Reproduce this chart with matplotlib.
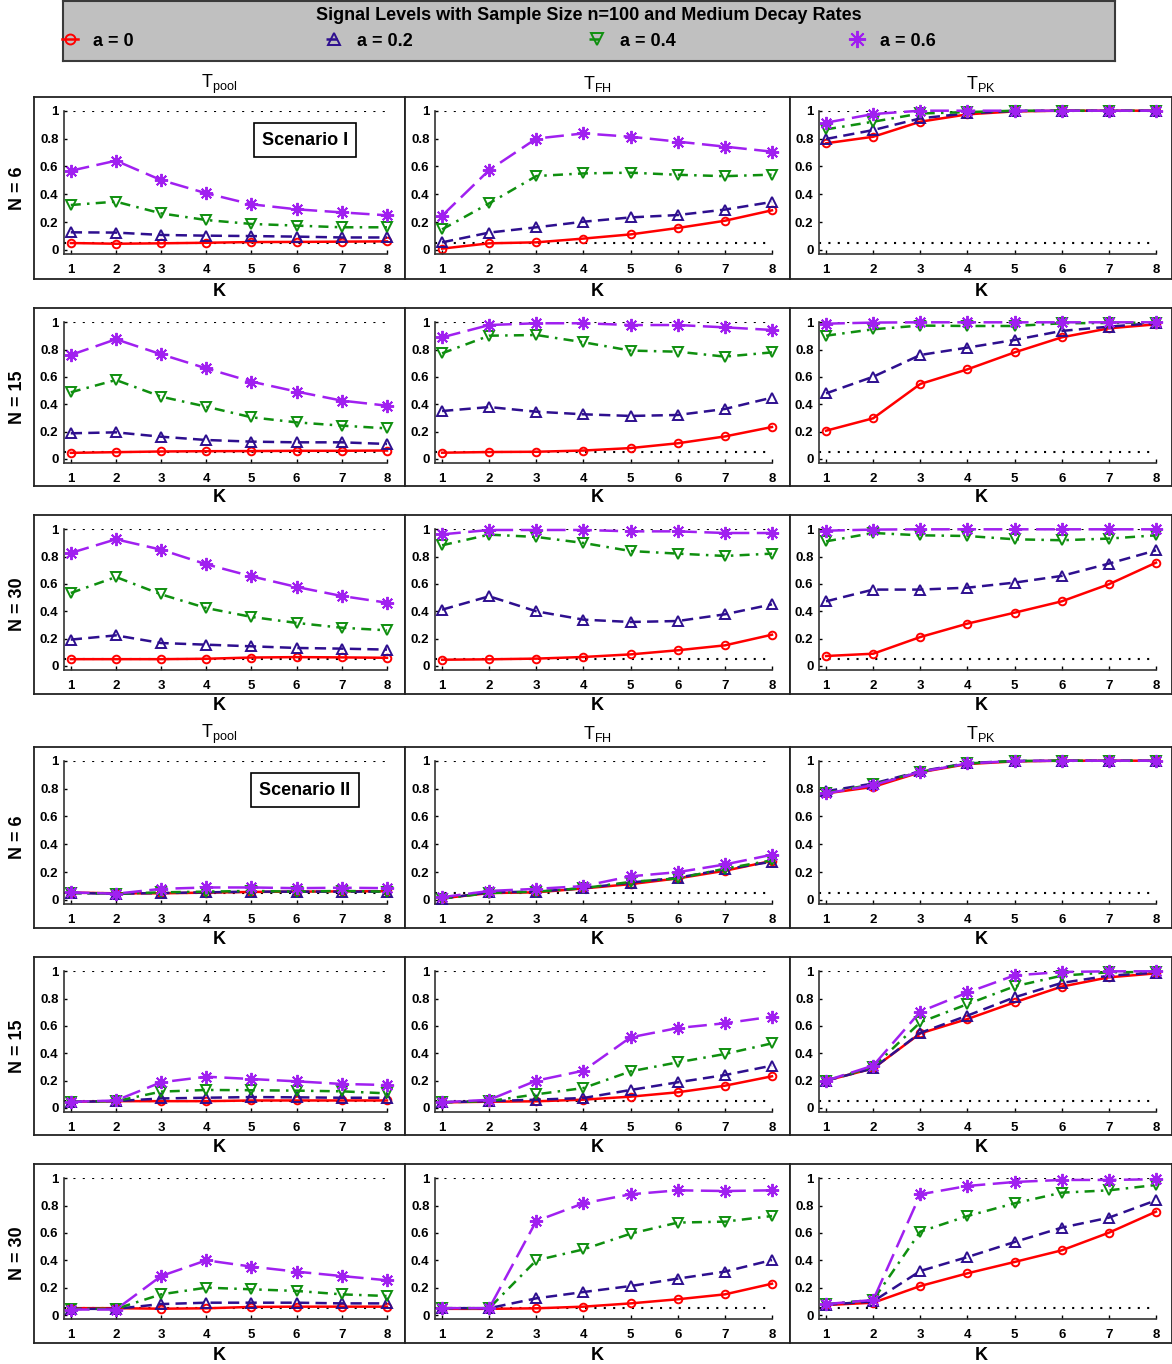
import numpy as np
import matplotlib
matplotlib.use('Agg')
import matplotlib.pyplot as plt

plt.rcParams['font.family'] = ['Liberation Sans', 'DejaVu Sans']

W, H = 1172, 1364

K = [1, 2, 3, 4, 5, 6, 7, 8]
alpha_labels = ['a = 0', 'a = 0.2', 'a = 0.4', 'a = 0.6']
test_titles = [r'T$_{\mathregular{pool}}$', r'T$_{\mathregular{FH}}$', r'T$_{\mathregular{PK}}$']
n_labels = ['N = 6', 'N = 15', 'N = 30']
scenario_labels = ['Scenario I', 'Scenario II']
main_title = 'Signal Levels with Sample Size n=100 and Medium Decay Rates'

# each panel: rows are a = 0, 0.2, 0.4, 0.6 ; columns are K = 1..8
# ---- Scenario I ----
s1_n6_pool = [[0.050, 0.045, 0.048, 0.052, 0.057, 0.058, 0.060, 0.062],
              [0.127, 0.125, 0.108, 0.103, 0.100, 0.096, 0.090, 0.090],
              [0.323, 0.347, 0.263, 0.215, 0.187, 0.175, 0.163, 0.163],
              [0.569, 0.641, 0.502, 0.407, 0.328, 0.292, 0.270, 0.249]]
s1_n6_fh = [[0.010, 0.048, 0.055, 0.082, 0.112, 0.158, 0.210, 0.285],
            [0.055, 0.125, 0.163, 0.203, 0.234, 0.251, 0.290, 0.345],
            [0.148, 0.335, 0.531, 0.550, 0.555, 0.540, 0.530, 0.541],
            [0.246, 0.574, 0.800, 0.837, 0.813, 0.778, 0.742, 0.706]]
s1_n6_pk = [[0.766, 0.813, 0.921, 0.974, 0.995, 1.000, 1.000, 1.000],
            [0.797, 0.861, 0.945, 0.981, 0.998, 1.000, 1.000, 1.000],
            [0.866, 0.921, 0.980, 0.990, 1.000, 1.000, 1.000, 1.000],
            [0.914, 0.976, 1.000, 1.000, 1.000, 1.000, 1.000, 1.000]]

s1_n15_pool = [[0.045, 0.050, 0.055, 0.057, 0.058, 0.060, 0.060, 0.062],
               [0.188, 0.195, 0.163, 0.139, 0.127, 0.122, 0.122, 0.110],
               [0.488, 0.578, 0.456, 0.383, 0.305, 0.268, 0.244, 0.224],
               [0.761, 0.876, 0.766, 0.663, 0.566, 0.493, 0.427, 0.390]]
s1_n15_fh = [[0.046, 0.051, 0.053, 0.062, 0.080, 0.115, 0.165, 0.234],
             [0.351, 0.380, 0.346, 0.327, 0.315, 0.322, 0.366, 0.449],
             [0.773, 0.902, 0.907, 0.854, 0.793, 0.785, 0.749, 0.780],
             [0.890, 0.980, 0.993, 0.993, 0.980, 0.980, 0.963, 0.944]]
s1_n15_pk = [[0.207, 0.298, 0.549, 0.656, 0.780, 0.890, 0.956, 0.985],
             [0.480, 0.602, 0.761, 0.815, 0.871, 0.937, 0.968, 0.995],
             [0.902, 0.949, 0.976, 0.973, 0.973, 0.993, 0.995, 0.998],
             [0.990, 0.998, 1.000, 1.000, 1.000, 1.000, 1.000, 1.000]]

s1_n30_pool = [[0.050, 0.050, 0.050, 0.053, 0.062, 0.065, 0.063, 0.060],
               [0.193, 0.224, 0.168, 0.156, 0.144, 0.132, 0.127, 0.120],
               [0.534, 0.651, 0.524, 0.424, 0.359, 0.315, 0.280, 0.261],
               [0.827, 0.927, 0.851, 0.744, 0.656, 0.578, 0.512, 0.463]]
s1_n30_fh = [[0.046, 0.049, 0.054, 0.066, 0.085, 0.115, 0.151, 0.229],
             [0.412, 0.510, 0.400, 0.339, 0.322, 0.329, 0.378, 0.451],
             [0.883, 0.961, 0.944, 0.900, 0.841, 0.822, 0.805, 0.822],
             [0.963, 0.995, 0.995, 0.995, 0.985, 0.985, 0.973, 0.973]]
s1_n30_pk = [[0.073, 0.090, 0.212, 0.310, 0.390, 0.473, 0.598, 0.756],
             [0.473, 0.559, 0.559, 0.573, 0.610, 0.659, 0.749, 0.846],
             [0.912, 0.973, 0.956, 0.951, 0.927, 0.920, 0.932, 0.956],
             [0.990, 0.998, 1.000, 1.000, 1.000, 1.000, 1.000, 1.000]]

# ---- Scenario II ----
s2_n6_pool = [[0.053, 0.048, 0.048, 0.053, 0.058, 0.060, 0.062, 0.063],
              [0.050, 0.045, 0.050, 0.055, 0.060, 0.060, 0.060, 0.060],
              [0.050, 0.045, 0.055, 0.060, 0.065, 0.060, 0.065, 0.060],
              [0.055, 0.045, 0.080, 0.090, 0.090, 0.085, 0.088, 0.085]]
s2_n6_fh = [[0.012, 0.050, 0.055, 0.083, 0.114, 0.155, 0.210, 0.281],
            [0.010, 0.055, 0.060, 0.085, 0.125, 0.160, 0.220, 0.275],
            [0.010, 0.050, 0.060, 0.085, 0.130, 0.155, 0.225, 0.285],
            [0.020, 0.065, 0.080, 0.100, 0.170, 0.200, 0.255, 0.325]]
s2_n6_pk = [[0.765, 0.812, 0.917, 0.976, 0.995, 1.000, 1.000, 1.000],
            [0.781, 0.836, 0.924, 0.983, 0.998, 1.000, 1.000, 1.000],
            [0.770, 0.830, 0.920, 0.980, 0.998, 1.000, 1.000, 1.000],
            [0.765, 0.825, 0.920, 0.980, 0.998, 1.000, 1.000, 1.000]]

s2_n15_pool = [[0.045, 0.050, 0.050, 0.050, 0.055, 0.055, 0.055, 0.055],
               [0.045, 0.050, 0.070, 0.075, 0.080, 0.078, 0.075, 0.075],
               [0.045, 0.050, 0.120, 0.132, 0.130, 0.127, 0.122, 0.107],
               [0.045, 0.055, 0.188, 0.229, 0.212, 0.195, 0.176, 0.168]]
s2_n15_fh = [[0.041, 0.046, 0.049, 0.061, 0.083, 0.115, 0.163, 0.232],
             [0.042, 0.050, 0.061, 0.073, 0.132, 0.188, 0.241, 0.310],
             [0.042, 0.050, 0.100, 0.146, 0.268, 0.334, 0.395, 0.473],
             [0.042, 0.060, 0.200, 0.273, 0.517, 0.585, 0.620, 0.668]]
s2_n15_pk = [[0.200, 0.290, 0.546, 0.651, 0.773, 0.888, 0.956, 0.985],
             [0.200, 0.290, 0.550, 0.676, 0.810, 0.915, 0.968, 0.990],
             [0.200, 0.300, 0.627, 0.760, 0.890, 0.968, 0.993, 0.995],
             [0.200, 0.310, 0.705, 0.845, 0.970, 0.995, 1.000, 1.000]]

s2_n30_pool = [[0.050, 0.050, 0.046, 0.049, 0.059, 0.061, 0.061, 0.061],
               [0.045, 0.045, 0.080, 0.090, 0.090, 0.090, 0.085, 0.085],
               [0.045, 0.045, 0.151, 0.200, 0.188, 0.176, 0.151, 0.139],
               [0.040, 0.040, 0.285, 0.400, 0.354, 0.317, 0.285, 0.254]]
s2_n30_fh = [[0.045, 0.045, 0.049, 0.061, 0.085, 0.115, 0.151, 0.229],
             [0.050, 0.050, 0.122, 0.168, 0.212, 0.266, 0.317, 0.402],
             [0.050, 0.050, 0.400, 0.480, 0.595, 0.676, 0.683, 0.724],
             [0.050, 0.050, 0.688, 0.817, 0.883, 0.912, 0.907, 0.912]]
s2_n30_pk = [[0.073, 0.090, 0.212, 0.305, 0.388, 0.473, 0.602, 0.756],
             [0.075, 0.100, 0.322, 0.424, 0.534, 0.639, 0.712, 0.839],
             [0.080, 0.110, 0.610, 0.724, 0.817, 0.895, 0.912, 0.951],
             [0.080, 0.110, 0.883, 0.944, 0.973, 0.988, 0.988, 0.993]]

panels = [[s1_n6_pool, s1_n6_fh, s1_n6_pk],
          [s1_n15_pool, s1_n15_fh, s1_n15_pk],
          [s1_n30_pool, s1_n30_fh, s1_n30_pk],
          [s2_n6_pool, s2_n6_fh, s2_n6_pk],
          [s2_n15_pool, s2_n15_fh, s2_n15_pk],
          [s2_n30_pool, s2_n30_fh, s2_n30_pk]]

# line styles per a-level
colors = ['#ff0000', '#2e0f8f', '#0f8f0f', '#a020f0']
markers = ['o', '^', 'v', (8, 2, 0)]
msizes = [5.5, 6.5, 6.5, 9.5]
dash_styles = [None, (4.5, 2.5), (4, 2.5, 1, 2.5), (7.5, 3)]

# layout in pixels
frame_x = [(34, 405), (405, 790), (790, 1172)]
spine_x = [(64, 387), (435, 772), (819, 1156)]
frame_y = [(97, 279), (308, 486), (515, 694), (747, 928), (957, 1135), (1164, 1343)]
one_y = [110.7, 322.3, 529.3, 760.7, 971.3, 1178.3]
zero_y = [250, 459, 666, 900, 1108, 1315]
y_lo = -0.03


def fig_rect(l, t, r, b):
    return [l / W, 1 - b / H, (r - l) / W, (b - t) / H]


fig = plt.figure(figsize=(W / 100, H / 100), dpi=100)

# legend box at the top
lax = fig.add_axes(fig_rect(63, 1, 1115, 61))
lax.set_facecolor('#c0c0c0')
lax.set_xticks([])
lax.set_yticks([])
for sp in lax.spines.values():
    sp.set_linewidth(1.5)
    sp.set_color('#3a3a3a')
fig.text(589 / W, 1 - 16 / H, main_title, ha='center', va='center',
         fontsize=13, fontweight='bold')

handles = None
for r in range(6):
    ft, fb = frame_y[r]
    for c in range(3):
        fl, fr = frame_x[c]
        fax = fig.add_axes(fig_rect(fl, ft, fr, fb))
        fax.set_xticks([])
        fax.set_yticks([])
        for sp in fax.spines.values():
            sp.set_linewidth(1.3)
            sp.set_color('#222222')

        sl, sr = spine_x[c]
        bottom = zero_y[r] - y_lo * (zero_y[r] - one_y[r])
        ax = fig.add_axes(fig_rect(sl, one_y[r], sr, bottom))
        ax.set_facecolor('none')
        ax.set_xlim(0.85, 8)
        ax.set_ylim(y_lo, 1)
        ax.spines['top'].set_visible(False)
        ax.spines['right'].set_visible(False)
        for side in ['left', 'bottom']:
            ax.spines[side].set_linewidth(1.2)
            ax.spines[side].set_color('#333333')

        for ref in [1.0, 0.05]:
            ax.axhline(ref, color='black', lw=1.5, ls=(0, (1, 3.5)), zorder=1)

        lines = []
        for i, vals in enumerate(panels[r][c]):
            ln, = ax.plot(K, vals, color=colors[i], lw=1.8, marker=markers[i],
                          ms=msizes[i], mew=1.4, mfc='none', clip_on=False,
                          zorder=2 + i)
            if dash_styles[i] is not None:
                ln.set_dashes(dash_styles[i])
            lines.append(ln)
        if handles is None:
            handles = lines

        ax.set_xticks(K)
        ax.set_yticks([0, 0.2, 0.4, 0.6, 0.8, 1])
        ax.set_yticklabels(['0', '0.2', '0.4', '0.6', '0.8', '1'])
        ax.tick_params(axis='x', direction='in', length=3, width=1, pad=7,
                       labelsize=9.5)
        ax.tick_params(axis='y', direction='in', length=2, width=1, pad=4,
                       labelsize=9.5)
        plt.setp(ax.get_xticklabels(), fontweight='bold')
        plt.setp(ax.get_yticklabels(), fontweight='bold')

        if r in (0, 3) and c == 0:
            ax.text(0.746, 0.795, scenario_labels[r // 3], transform=ax.transAxes,
                    ha='center', va='center', fontsize=13, fontweight='bold',
                    bbox=dict(boxstyle='square,pad=0.45', fc='white',
                              ec='black', lw=1.2), zorder=10)

        xc = (fl + fr) / 2
        fig.text(xc / W, 1 - (fb + 12) / H, 'K', ha='center', va='center',
                 fontsize=13, fontweight='bold')
        if r in (0, 3):
            fig.text(xc / W, 1 - (ft - 13) / H, test_titles[c], ha='center',
                     va='center', fontsize=13)

    fig.text(17 / W, 1 - ((ft + fb) / 2) / H, n_labels[r % 3], rotation=90,
             ha='center', va='center', fontsize=13, fontweight='bold')

# legend entries spread across the grey box
for i, x in enumerate([62, 326, 589, 849]):
    fig.legend([handles[i]], [alpha_labels[i]], loc='center left',
               bbox_to_anchor=(x / W, 1 - 41 / H), frameon=False,
               borderpad=0, borderaxespad=0, handlelength=0.9,
               handletextpad=0.8, markerscale=1.3,
               prop=dict(weight='bold', size=13))

fig.savefig('out.png', dpi=100)
